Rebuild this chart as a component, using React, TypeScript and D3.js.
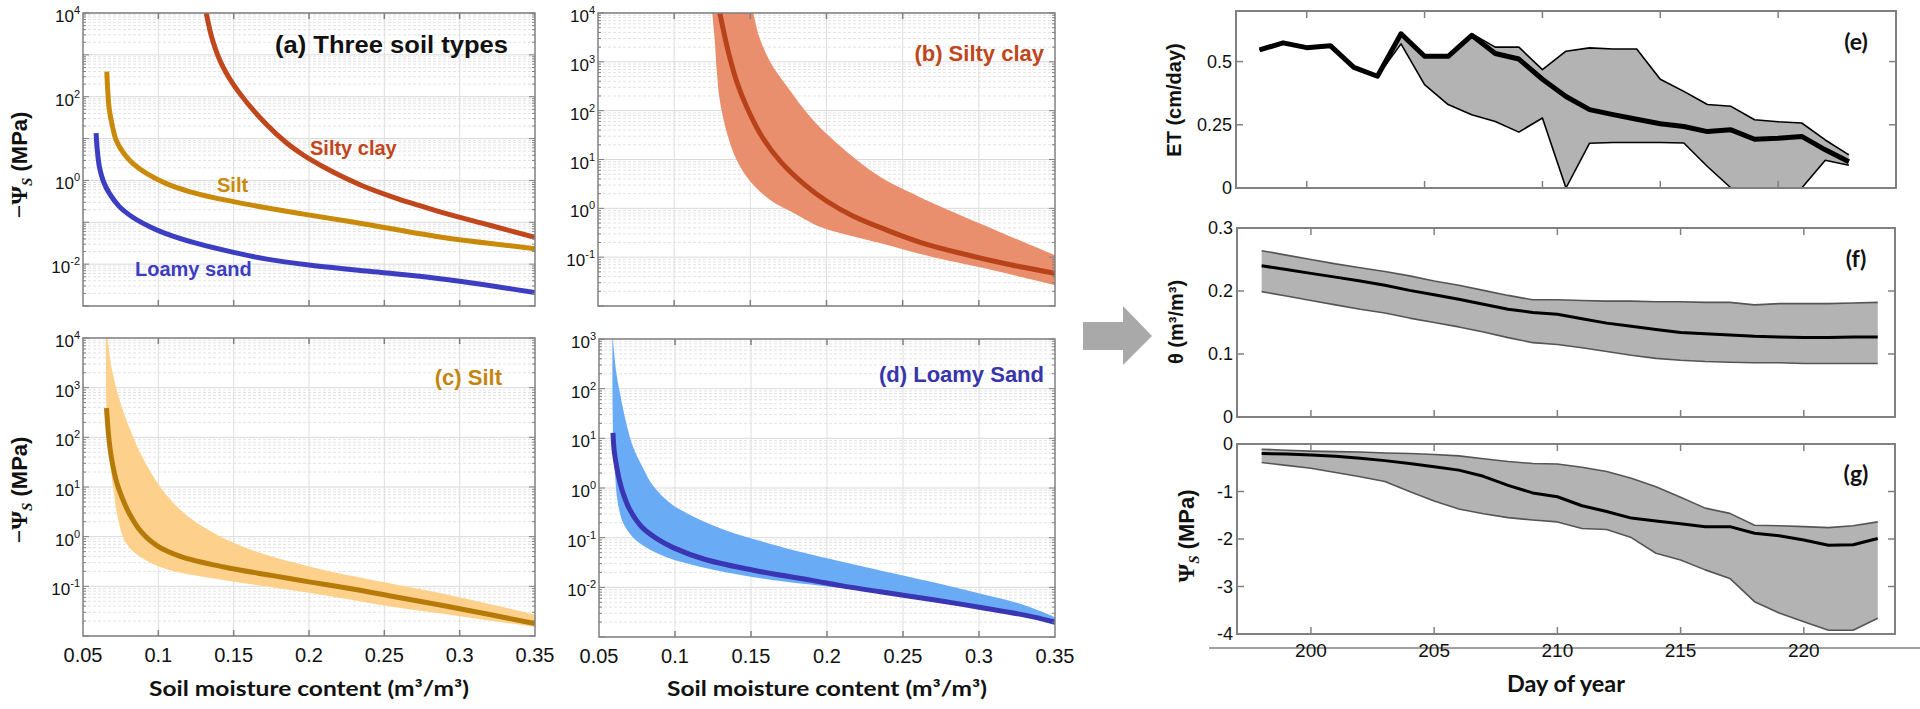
import React from 'react';
import * as d3 from 'd3';

// ---------- (a) three soil types: theta (m3/m3) vs log10(-psi in MPa)
const siltyClayTheta = [0.1318, 0.136, 0.1428, 0.154, 0.172, 0.185, 0.194, 0.2, 0.216, 0.235, 0.26, 0.2735, 0.287, 0.32, 0.35];
const siltyClayLog = [4.0, 3.35, 2.72, 2.08, 1.33, 0.9, 0.66, 0.52, 0.2, -0.12, -0.45, -0.6, -0.75, -1.07, -1.36];
const siltTheta = [0.0658, 0.0665, 0.0675, 0.0695, 0.072, 0.077, 0.083, 0.093, 0.105, 0.12, 0.139, 0.165, 0.194, 0.23, 0.287, 0.35];
const siltLog = [2.6, 2.1, 1.68, 1.3, 0.96, 0.65, 0.41, 0.15, -0.07, -0.26, -0.43, -0.61, -0.79, -1.0, -1.35, -1.63];
const loamyTheta = [0.0587, 0.0595, 0.0609, 0.0635, 0.0675, 0.074, 0.083, 0.094, 0.105, 0.125, 0.15, 0.172, 0.2, 0.24, 0.2735, 0.3, 0.325, 0.35];
const loamyLog = [1.13, 0.72, 0.32, -0.02, -0.31, -0.62, -0.88, -1.1, -1.27, -1.5, -1.72, -1.88, -2.02, -2.17, -2.29, -2.41, -2.54, -2.68];

// ---------- (b) silty clay: median and band
const bMidTheta = [0.13, 0.133, 0.136, 0.141, 0.148, 0.158, 0.17, 0.185, 0.2, 0.217, 0.24, 0.262, 0.288, 0.32, 0.35];
const bMidLog = [4.0, 3.55, 3.15, 2.6, 2.05, 1.45, 0.95, 0.5, 0.15, -0.15, -0.45, -0.7, -0.92, -1.15, -1.33];
const bHiTheta = [0.152, 0.156, 0.163, 0.174, 0.19, 0.207, 0.235, 0.26, 0.3, 0.35];
const bHiLog = [4.0, 3.5, 3.0, 2.5, 1.85, 1.33, 0.65, 0.25, -0.3, -0.96];
const bLoTheta = [0.125, 0.1265, 0.128, 0.13, 0.135, 0.141, 0.15, 0.163, 0.18, 0.196, 0.235, 0.27, 0.3, 0.35];
const bLoLog = [4.0, 3.5, 2.8, 2.2, 1.5, 0.99, 0.55, 0.17, -0.12, -0.38, -0.71, -1.0, -1.2, -1.57];

// ---------- (c) silt
const cMidTheta = [0.0656, 0.0668, 0.0683, 0.07, 0.0725, 0.076, 0.081, 0.088, 0.099, 0.115, 0.1436, 0.175, 0.2, 0.23, 0.255, 0.3, 0.35];
const cMidLog = [2.59, 2.1, 1.7, 1.4, 1.08, 0.78, 0.45, 0.12, -0.18, -0.4, -0.61, -0.78, -0.91, -1.06, -1.2, -1.45, -1.75];
const cHiTheta = [0.0662, 0.069, 0.072, 0.076, 0.082, 0.0888, 0.098, 0.107, 0.12, 0.14, 0.165, 0.2, 0.25, 0.3, 0.35];
const cHiLog = [4.0, 3.4, 3.0, 2.59, 2.1, 1.64, 1.15, 0.78, 0.4, 0.02, -0.3, -0.6, -0.92, -1.22, -1.57];
const cLoTheta = [0.0652, 0.0653, 0.0655, 0.0665, 0.068, 0.07, 0.073, 0.078, 0.0876, 0.105, 0.143, 0.2, 0.255, 0.3, 0.35];
const cLoLog = [4.0, 3.0, 2.6, 2.0, 1.5, 1.0, 0.4, -0.1, -0.4, -0.65, -0.87, -1.13, -1.41, -1.6, -1.82];

// ---------- (d) loamy sand
const dMidTheta = [0.0592, 0.06, 0.0616, 0.0635, 0.0658, 0.07, 0.078, 0.088, 0.0988, 0.12, 0.154, 0.19, 0.21, 0.235, 0.27, 0.3, 0.33, 0.35];
const dMidLog = [1.11, 0.75, 0.43, 0.15, -0.1, -0.42, -0.78, -1.02, -1.2, -1.44, -1.67, -1.86, -1.97, -2.09, -2.25, -2.4, -2.56, -2.7];
const dHiTheta = [0.0592, 0.06, 0.0615, 0.0638, 0.068, 0.0724, 0.079, 0.0855, 0.0967, 0.115, 0.136, 0.16, 0.191, 0.235, 0.27, 0.3, 0.33, 0.35];
const dHiLog = [3.0, 2.7, 2.3, 1.91, 1.3, 0.83, 0.4, 0.05, -0.3, -0.62, -0.88, -1.1, -1.35, -1.66, -1.9, -2.12, -2.36, -2.6];
const dLoTheta = [0.0588, 0.059, 0.0595, 0.0605, 0.0615, 0.063, 0.0658, 0.072, 0.08, 0.095, 0.117, 0.145, 0.173, 0.205, 0.235, 0.27, 0.3, 0.33, 0.35];
const dLoLog = [3.0, 1.5, 0.7, 0.3, -0.1, -0.4, -0.7, -0.98, -1.18, -1.4, -1.59, -1.76, -1.89, -2.0, -2.1, -2.27, -2.42, -2.58, -2.76];

const thetaTicks = [0.05, 0.1, 0.15, 0.2, 0.25, 0.3, 0.35];
const thetaTickLabels = ['0.05', '0.1', '0.15', '0.2', '0.25', '0.3', '0.35'];

// ---------- (e)-(g) daily series
const days = [198, 199, 200, 201, 202, 203, 204, 205, 206, 207, 208, 209, 210, 211, 212, 213, 214, 215, 216, 217, 218, 219, 220, 221, 222, 223];
const etMean = [0.546, 0.574, 0.555, 0.563, 0.477, 0.442, 0.61, 0.521, 0.521, 0.604, 0.532, 0.51, 0.43, 0.362, 0.31, 0.29, 0.272, 0.254, 0.243, 0.223, 0.23, 0.193, 0.197, 0.204, 0.151, 0.104];
const etUpper = [0.546, 0.574, 0.555, 0.563, 0.477, 0.442, 0.61, 0.525, 0.525, 0.61, 0.557, 0.557, 0.468, 0.541, 0.554, 0.55, 0.55, 0.43, 0.382, 0.33, 0.323, 0.27, 0.262, 0.257, 0.19, 0.131];
const etLower = [0.546, 0.574, 0.555, 0.563, 0.477, 0.442, 0.57, 0.409, 0.33, 0.29, 0.263, 0.221, 0.277, 0.0, 0.177, 0.18, 0.18, 0.18, 0.178, 0.085, 0.0, 0.0, 0.0, 0.0, 0.11, 0.09];
const thMean = [0.24, 0.234, 0.228, 0.222, 0.216, 0.209, 0.201, 0.194, 0.187, 0.179, 0.171, 0.166, 0.163, 0.156, 0.149, 0.144, 0.139, 0.134, 0.132, 0.13, 0.128, 0.127, 0.126, 0.126, 0.127, 0.127];
const thUpper = [0.264, 0.257, 0.25, 0.243, 0.237, 0.231, 0.224, 0.216, 0.209, 0.201, 0.193, 0.186, 0.186, 0.185, 0.184, 0.184, 0.183, 0.183, 0.182, 0.182, 0.178, 0.18, 0.18, 0.18, 0.181, 0.182];
const thLower = [0.199, 0.192, 0.185, 0.178, 0.171, 0.165, 0.157, 0.15, 0.143, 0.135, 0.126, 0.118, 0.115, 0.11, 0.104, 0.098, 0.093, 0.09, 0.088, 0.087, 0.086, 0.086, 0.085, 0.085, 0.085, 0.085];
const psiMean = [-0.2, -0.21, -0.23, -0.26, -0.3, -0.35, -0.41, -0.48, -0.55, -0.68, -0.87, -1.03, -1.11, -1.3, -1.42, -1.56, -1.62, -1.68, -1.74, -1.74, -1.88, -1.93, -2.02, -2.13, -2.12, -1.99];
const psiUpper = [-0.11, -0.13, -0.15, -0.16, -0.17, -0.19, -0.2, -0.22, -0.25, -0.31, -0.37, -0.41, -0.42, -0.49, -0.58, -0.72, -0.9, -1.12, -1.35, -1.46, -1.71, -1.72, -1.74, -1.76, -1.72, -1.64];
const psiLower = [-0.39, -0.45, -0.51, -0.6, -0.69, -0.79, -1.0, -1.2, -1.37, -1.47, -1.55, -1.6, -1.64, -1.78, -1.8, -1.97, -2.3, -2.44, -2.65, -2.83, -3.32, -3.56, -3.74, -3.92, -3.92, -3.67];
const dayTicks = [200, 205, 210, 215, 220];

const AXIS = '#808080';
const ARIAL = '"Liberation Sans", Arial, sans-serif';
const SERIF = '"Liberation Serif", "DejaVu Serif", serif';
const CAL = 'Lato, "Open Sans", sans-serif';

const RED = '#c0461c';
const ORANGE = '#c98a0a';
const BLUE = '#3d3dc2';

type Box = { l: number; r: number; t: number; b: number };
type Pt = [number, number];
type Sx = d3.ScaleLinear<number, number>;
type Sy = d3.ScaleLogarithmic<number, number>;

const toPts = (theta: number[], logPsi: number[]): Pt[] => theta.map((t, i) => [t, Math.pow(10, logPsi[i])]);

function curvePath(x: Sx, y: Sy, pts: Pt[]) {
  return d3.line<Pt>().x(d => x(d[0])).y(d => y(d[1])).curve(d3.curveCatmullRom.alpha(0.5))(pts) || '';
}
function bandPath(x: Sx, y: Sy, hi: Pt[], lo: Pt[]) {
  const a = curvePath(x, y, hi);
  const b = curvePath(x, y, lo.slice().reverse());
  return a + 'L' + b.slice(1) + 'Z';
}

function LogPanel({ id, box, lo, hi, labelExps, showX, children }: {
  id: string; box: Box; lo: number; hi: number; labelExps: number[]; showX: boolean;
  children: (x: Sx, y: Sy) => React.ReactNode;
}) {
  const x = d3.scaleLinear().domain([0.05, 0.35]).range([box.l, box.r]);
  const y = d3.scaleLog().domain([Math.pow(10, lo), Math.pow(10, hi)]).range([box.b, box.t]);
  const minor: number[] = [];
  const major: number[] = [];
  for (let e = lo; e < hi; e++) {
    for (let k = 1; k < 10; k++) (k === 1 ? major : minor).push(k * Math.pow(10, e));
  }
  major.push(Math.pow(10, hi));
  const inner = thetaTicks.slice(1, -1);
  return (
    <g>
      <defs>
        <clipPath id={id}><rect x={box.l} y={box.t} width={box.r - box.l} height={box.b - box.t} /></clipPath>
      </defs>
      {minor.map(v => (
        <line key={'mn' + v} x1={box.l} x2={box.r} y1={y(v)} y2={y(v)} stroke="#e3e3e3" strokeDasharray="3 2" />
      ))}
      {major.map(v => (
        <line key={'mj' + v} x1={box.l} x2={box.r} y1={y(v)} y2={y(v)} stroke="#d9d9d9" />
      ))}
      {inner.map(v => (
        <line key={'vx' + v} x1={x(v)} x2={x(v)} y1={box.t} y2={box.b} stroke="#dedede" />
      ))}
      <g clipPath={`url(#${id})`}>{children(x, y)}</g>
      <rect x={box.l} y={box.t} width={box.r - box.l} height={box.b - box.t} fill="none" stroke={AXIS} strokeWidth={1.5} />
      {inner.map(v => (
        <g key={'tx' + v} stroke={AXIS} strokeWidth={1.5}>
          <line x1={x(v)} x2={x(v)} y1={box.b} y2={box.b - 6} />
          <line x1={x(v)} x2={x(v)} y1={box.t} y2={box.t + 6} />
        </g>
      ))}
      {major.concat(minor).map(v => {
        const len = minor.includes(v) ? 3 : 6;
        return (
          <g key={'ty' + v} stroke={AXIS} strokeWidth={1}>
            <line x1={box.l} x2={box.l + len} y1={y(v)} y2={y(v)} />
            <line x1={box.r} x2={box.r - len} y1={y(v)} y2={y(v)} />
          </g>
        );
      })}
      {labelExps.map(e => (
        <text key={'ly' + e} x={box.l - 3} y={y(Math.pow(10, e)) + 9} textAnchor="end" fontFamily={ARIAL} fontSize={17} fill="#111">
          10<tspan dy={-8} fontSize={11}>{e}</tspan>
        </text>
      ))}
      {showX && thetaTicks.map((v, i) => (
        <text key={'lx' + v} x={x(v)} y={box.b + 26} textAnchor="middle" fontFamily='"Liberation Sans Narrow", "Liberation Sans", sans-serif' fontSize={20} fill="#111">
          {thetaTickLabels[i]}
        </text>
      ))}
    </g>
  );
}

function PsiLabel({ x, y, minus }: { x: number; y: number; minus: boolean }) {
  return (
    <text transform={`translate(${x},${y}) rotate(-90)`} textAnchor="middle" fontWeight="bold" fontSize={22} fill="#111">
      <tspan fontFamily={SERIF} fontSize={24}>{minus ? '−Ψ' : 'Ψ'}</tspan>
      <tspan fontFamily={SERIF} fontStyle="italic" fontSize={15} dy={5}>S</tspan>
      <tspan fontFamily={ARIAL} dy={-5}> (MPa)</tspan>
    </text>
  );
}

function LinPanel({ box, xDom, yDom, yTicks, yLabels, mean, upper, lower, meanW, boundColor, boundW, tag, tagY }: {
  box: Box; xDom: [number, number]; yDom: [number, number]; yTicks: number[]; yLabels: string[];
  mean: number[]; upper: number[]; lower: number[]; meanW: number; boundColor: string; boundW: number; tag: string; tagY: number;
}) {
  const x = d3.scaleLinear().domain(xDom).range([box.l, box.r]);
  const y = d3.scaleLinear().domain(yDom).range([box.b, box.t]);
  const area = d3.area<number>().x((_, i) => x(days[i])).y0((_, i) => y(lower[i])).y1(d => y(d));
  const line = (vals: number[]) => d3.line<number>().x((_, i) => x(days[i])).y(d => y(d))(vals) || '';
  return (
    <g>
      <path d={area(upper) || ''} fill="#b3b3b3" />
      <path d={line(upper)} fill="none" stroke={boundColor} strokeWidth={boundW} strokeLinejoin="round" />
      <path d={line(lower)} fill="none" stroke={boundColor} strokeWidth={boundW} strokeLinejoin="round" />
      <path d={line(mean)} fill="none" stroke="#000" strokeWidth={meanW} strokeLinejoin="round" />
      <rect x={box.l} y={box.t} width={box.r - box.l} height={box.b - box.t} fill="none" stroke={AXIS} strokeWidth={2} />
      {dayTicks.map(d => (
        <g key={'dt' + d} stroke={AXIS} strokeWidth={1.5}>
          <line x1={x(d)} x2={x(d)} y1={box.b} y2={box.b - 7} />
          <line x1={x(d)} x2={x(d)} y1={box.t} y2={box.t + 7} />
        </g>
      ))}
      {yTicks.map((v, i) => (
        <g key={'yt' + v}>
          <line x1={box.l} x2={box.l + 7} y1={y(v)} y2={y(v)} stroke={AXIS} strokeWidth={1.5} />
          <line x1={box.r} x2={box.r - 7} y1={y(v)} y2={y(v)} stroke={AXIS} strokeWidth={1.5} />
          <text x={box.l - 4} y={y(v) + 6} textAnchor="end" fontFamily={ARIAL} fontSize={18} fill="#111">{yLabels[i]}</text>
        </g>
      ))}
      <text x={1856} y={tagY} textAnchor="middle" fontFamily={CAL} fontWeight="bold" fontSize={23} fill="#111">{tag}</text>
    </g>
  );
}

export default function App() {
  const A: Box = { l: 83, r: 535, t: 13, b: 306 };
  const B: Box = { l: 598, r: 1055, t: 13, b: 306 };
  const C: Box = { l: 83, r: 535, t: 338, b: 636 };
  const D: Box = { l: 599, r: 1055, t: 339, b: 637 };
  const E: Box = { l: 1236, r: 1896, t: 11, b: 188 };
  const F: Box = { l: 1237, r: 1895, t: 228, b: 417 };
  const G: Box = { l: 1237, r: 1895, t: 444, b: 634 };
  const gx = d3.scaleLinear().domain([197, 223.7]).range([G.l, G.r]);

  return (
    <svg width={1920} height={709} style={{ position: 'absolute', left: 0, top: 0, background: '#fff' }}>
      <rect width={1920} height={709} fill="#fff" />

      <LogPanel id="clipA" box={A} lo={-3} hi={4} labelExps={[4, 2, 0, -2]} showX={false}>
        {(x, y) => (
          <g fill="none" strokeWidth={5}>
            <path d={curvePath(x, y, toPts(siltyClayTheta, siltyClayLog))} stroke={RED} />
            <path d={curvePath(x, y, toPts(siltTheta, siltLog))} stroke={ORANGE} />
            <path d={curvePath(x, y, toPts(loamyTheta, loamyLog))} stroke={BLUE} />
          </g>
        )}
      </LogPanel>
      <text x={508} y={53} textAnchor="end" fontFamily={ARIAL} fontWeight="bold" fontSize={23} fill="#111" textLength={233} lengthAdjust="spacingAndGlyphs">(a) Three soil types</text>
      <text x={310} y={155} fontFamily={ARIAL} fontWeight="bold" fontSize={20} fill={RED}>Silty clay</text>
      <text x={217} y={192} fontFamily={ARIAL} fontWeight="bold" fontSize={20} fill={ORANGE}>Silt</text>
      <text x={135} y={276} fontFamily={ARIAL} fontWeight="bold" fontSize={20} fill={BLUE}>Loamy sand</text>

      <LogPanel id="clipB" box={B} lo={-2} hi={4} labelExps={[4, 3, 2, 1, 0, -1]} showX={false}>
        {(x, y) => (
          <g>
            <path d={bandPath(x, y, toPts(bHiTheta, bHiLog), toPts(bLoTheta, bLoLog))} fill="#ea8f6e" />
            <path d={curvePath(x, y, toPts(bMidTheta, bMidLog))} fill="none" stroke="#b8431a" strokeWidth={5} />
          </g>
        )}
      </LogPanel>
      <text x={1044} y={61} textAnchor="end" fontFamily={ARIAL} fontWeight="bold" fontSize={22} fill={RED}>(b) Silty clay</text>

      <LogPanel id="clipC" box={C} lo={-2} hi={4} labelExps={[4, 3, 2, 1, 0, -1]} showX={true}>
        {(x, y) => (
          <g>
            <path d={bandPath(x, y, toPts(cHiTheta, cHiLog), toPts(cLoTheta, cLoLog))} fill="#fdd18c" />
            <path d={curvePath(x, y, toPts(cMidTheta, cMidLog))} fill="none" stroke="#b67a08" strokeWidth={5} />
          </g>
        )}
      </LogPanel>
      <text x={502} y={385} textAnchor="end" fontFamily={ARIAL} fontWeight="bold" fontSize={22} fill="#c48510">(c) Silt</text>

      <LogPanel id="clipD" box={D} lo={-3} hi={3} labelExps={[3, 2, 1, 0, -1, -2]} showX={true}>
        {(x, y) => (
          <g>
            <path d={bandPath(x, y, toPts(dHiTheta, dHiLog), toPts(dLoTheta, dLoLog))} fill="#6aabf6" />
            <path d={curvePath(x, y, toPts(dMidTheta, dMidLog))} fill="none" stroke="#3a35b2" strokeWidth={5} />
          </g>
        )}
      </LogPanel>
      <text x={1044} y={382} textAnchor="end" fontFamily={ARIAL} fontWeight="bold" fontSize={22} fill="#3835ac">(d) Loamy Sand</text>

      <PsiLabel x={27} y={165} minus={true} />
      <PsiLabel x={27} y={490} minus={true} />
      <text x={309} y={696} textAnchor="middle" fontFamily={CAL} fontWeight="bold" fontSize={21} fill="#111" textLength={320} lengthAdjust="spacingAndGlyphs">Soil moisture content (m³/m³)</text>
      <text x={827} y={696} textAnchor="middle" fontFamily={CAL} fontWeight="bold" fontSize={21} fill="#111" textLength={320} lengthAdjust="spacingAndGlyphs">Soil moisture content (m³/m³)</text>

      <polygon points="1083,322 1123,322 1123,306 1152,336 1123,365 1123,350 1083,350" fill="#a9a9a9" />

      <LinPanel box={E} xDom={[197, 225]} yDom={[0, 0.7]} yTicks={[0, 0.25, 0.5]} yLabels={['0', '0.25', '0.5']}
        mean={etMean} upper={etUpper} lower={etLower} meanW={5} boundColor="#000" boundW={1.6} tag="(e)" tagY={50} />
      <LinPanel box={F} xDom={[197, 223.7]} yDom={[0, 0.3]} yTicks={[0, 0.1, 0.2, 0.3]} yLabels={['0', '0.1', '0.2', '0.3']}
        mean={thMean} upper={thUpper} lower={thLower} meanW={3} boundColor="#555" boundW={1.6} tag="(f)" tagY={267} />
      <LinPanel box={G} xDom={[197, 223.7]} yDom={[-4, 0]} yTicks={[-4, -3, -2, -1, 0]} yLabels={['-4', '-3', '-2', '-1', '0']}
        mean={psiMean} upper={psiUpper} lower={psiLower} meanW={3} boundColor="#555" boundW={1.6} tag="(g)" tagY={482} />

      <line x1={1209} x2={1920} y1={648} y2={648} stroke={AXIS} strokeWidth={1.5} />
      {dayTicks.map(d => (
        <text key={'dl' + d} x={gx(d)} y={657} textAnchor="middle" fontFamily={ARIAL} fontSize={19} fill="#111">{d}</text>
      ))}
      <text x={1566} y={692} textAnchor="middle" fontFamily={CAL} fontWeight="bold" fontSize={22} fill="#111" textLength={118} lengthAdjust="spacingAndGlyphs">Day of year</text>

      <text transform="translate(1181,100) rotate(-90)" textAnchor="middle" fontFamily={ARIAL} fontWeight="bold" fontSize={20} fill="#111">ET (cm/day)</text>
      <text transform="translate(1183,322) rotate(-90)" textAnchor="middle" fontFamily={ARIAL} fontWeight="bold" fontSize={20} fill="#111">θ (m³/m³)</text>
      <PsiLabel x={1194} y={536} minus={false} />
    </svg>
  );
}
